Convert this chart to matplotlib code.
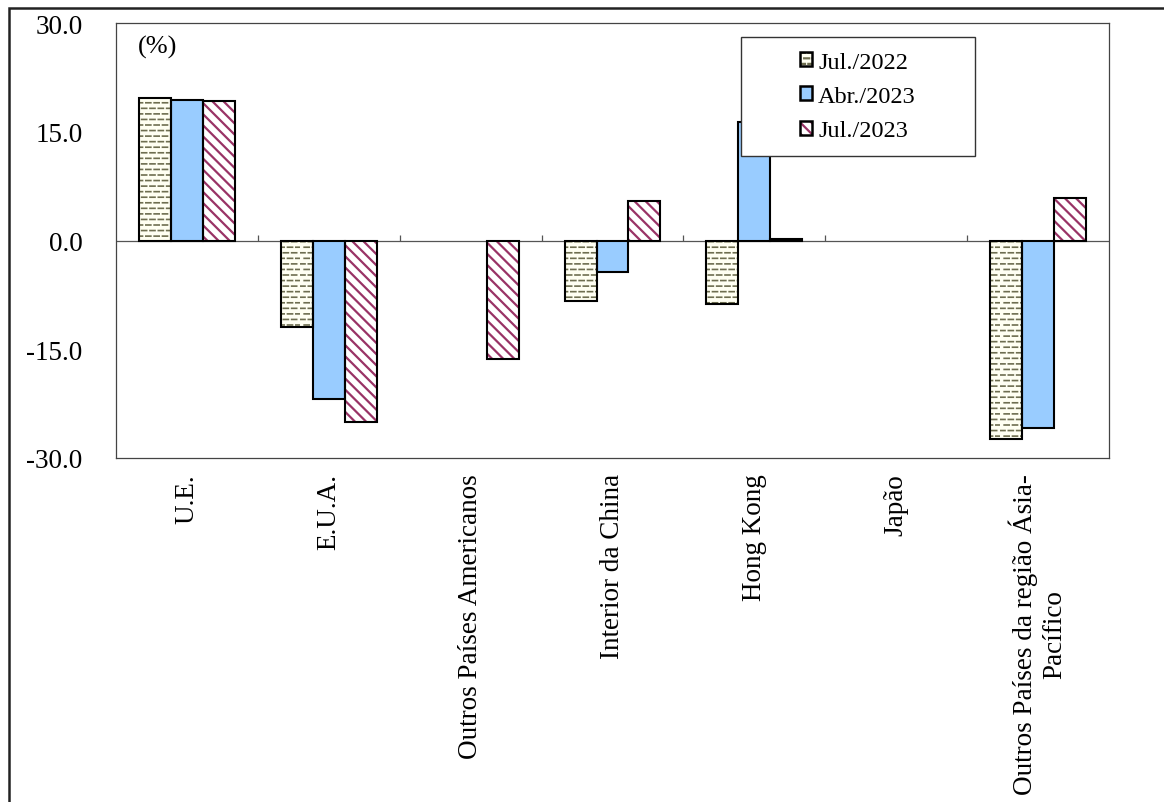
import warnings
import numpy as np
import matplotlib
matplotlib.use('Agg')
import matplotlib.pyplot as plt
import matplotlib.hatch as mhatch
from matplotlib.path import Path
from matplotlib.patches import Patch, Rectangle
from matplotlib.legend_handler import HandlerTuple

categories = ['U.E.', 'E.U.A.', 'Outros Países Americanos', 'Interior da China',
              'Hong Kong', 'Japão', 'Outros Países da região Ásia-\nPacífico']
jul_2022 = [19.6, -11.9, np.nan, -8.3, -8.7, np.nan, -27.4]
abr_2023 = [19.4, -21.9, np.nan, -4.3, 16.4, np.nan, -25.8]
jul_2023 = [19.3, -25.1, -16.4, 5.5, 0.2, np.nan, 5.9]
series_labels = ['Jul./2022', 'Abr./2023', 'Jul./2023']
y_ticks = [-30, -15, 0, 15, 30]


class DashHatch(mhatch.HatchPatternBase):
    # short staggered dashes, like the excel "dashed horizontal" fill
    def __init__(self, hatch, density):
        self.num_rows = hatch.count('_') * density
        self.num_dashes = 12
        self.num_vertices = self.num_rows * self.num_dashes * 2

    def set_vertices_and_codes(self, vertices, codes):
        k = 0
        for i in range(self.num_rows):
            y = (i + 0.5) / self.num_rows
            shift = 0.5 * (i % 2)
            for j in range(self.num_dashes):
                x0 = (j + shift) / self.num_dashes
                vertices[k] = (x0, y)
                vertices[k + 1] = (x0 + 0.6 / self.num_dashes, y)
                codes[k] = Path.MOVETO
                codes[k + 1] = Path.LINETO
                k += 2


mhatch._hatch_types.append(DashHatch)
warnings.filterwarnings('ignore')

plt.rcParams['font.family'] = ['Liberation Serif', 'DejaVu Serif']


def main():
    fig = plt.figure(figsize=(11.64, 8.03), dpi=100)
    ax = fig.add_axes([0.0997, 0.4284, 0.853, 0.5417])

    x = np.arange(len(categories))
    w = 0.225
    series = [jul_2022, abr_2023, jul_2023]
    styles = [
        ('#FFFFF2', '___', '#6E6E50', 1.2),
        ('#99CCFF', None, '#99CCFF', 1.0),
        ('white', '\\\\\\', '#993366', 1.6),
    ]
    handles = []
    for k, (vals, (face, hatch, hcol, hlw)) in enumerate(zip(series, styles)):
        plt.rcParams['hatch.linewidth'] = hlw
        pos = x + (k - 1) * w
        ax.bar(pos, vals, w, color=face, edgecolor=hcol, linewidth=0, hatch=hatch, zorder=2)
        ax.bar(pos, vals, w, fill=False, edgecolor='black', linewidth=1.5, zorder=3)
        h1 = Patch(facecolor=face, edgecolor=hcol, linewidth=0, hatch=hatch)
        h2 = Patch(fill=False, edgecolor='black', linewidth=1.8)
        handles.append((h1, h2))

    ax.axhline(0, color='#555555', lw=0.9, zorder=1)
    ax.vlines(x[:-1] + 0.5, 0, 0.7, color='#555555', lw=0.9, zorder=1)

    ax.set_xlim(-0.5, len(categories) - 0.5)
    ax.set_ylim(-30, 30)
    ax.set_yticks(y_ticks)
    ax.set_yticklabels([f'{v:.1f}' for v in y_ticks])
    ax.set_xticks(x)
    ax.set_xticklabels(categories, rotation=90, va='top', ha='center', ma='center')
    ax.tick_params(axis='y', length=0, pad=24, labelsize=19.5)
    ax.tick_params(axis='x', length=0, pad=11, labelsize=19.5)
    for s in ax.spines.values():
        s.set_color('#444444')
        s.set_linewidth(0.9)

    ax.text(0.022, 0.947, '(%)', transform=ax.transAxes, va='center', ha='left', fontsize=19)

    # legend box (fixed size, content centred like the original)
    fig.add_artist(Rectangle((0.6366, 0.8045), 0.2010, 0.1482, transform=fig.transFigure,
                             facecolor='white', edgecolor='#333333', lw=1.0, zorder=4))
    leg = fig.legend(handles, series_labels, loc='center', bbox_to_anchor=(0.7371, 0.8786),
                     frameon=False, fontsize=17.5, handlelength=0.5, handleheight=0.5,
                     handletextpad=0.25, labelspacing=0.55,
                     handler_map={tuple: HandlerTuple(ndivide=1, pad=0)})
    leg.set_zorder(5)

    # outer chart border
    fig.add_artist(Rectangle((9 / 1164, -0.1), 1.2, 1 - 9 / 803 + 0.1, transform=fig.transFigure,
                             fill=False, edgecolor='#222222', lw=1.8, clip_on=False))

    fig.savefig('out.png', dpi=100)


if __name__ == '__main__':
    main()
